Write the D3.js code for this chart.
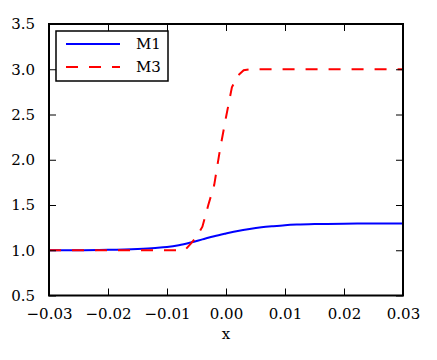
<!DOCTYPE html>
<html>
<head>
<meta charset="utf-8">
<script src="https://cdn.jsdelivr.net/npm/d3@7"></script>
<style>
  body { margin: 0; background: #fff; }
  svg text { font-family: "DejaVu Serif", serif; font-size: 15px; fill: #000; }
</style>
</head>
<body>
<svg id="chart" width="437" height="360"></svg>
<script>
// data
var m1_x = [-0.03, -0.025, -0.02, -0.015, -0.012, -0.01, -0.008, -0.006, -0.004, -0.002, 0, 0.002, 0.004, 0.006, 0.008, 0.01, 0.012, 0.015, 0.02, 0.025, 0.03];
var m1_y = [1.0, 1.0, 1.005, 1.015, 1.025, 1.035, 1.055, 1.085, 1.12, 1.155, 1.185, 1.213, 1.235, 1.253, 1.266, 1.277, 1.284, 1.29, 1.294, 1.295, 1.295];

var m3_x = [-0.03, -0.02, -0.01, -0.008, -0.007, -0.006, -0.005, -0.004, -0.003, -0.002, -0.001, 0, 0.001, 0.002, 0.003, 0.004, 0.01, 0.02, 0.03];
var m3_y = [1.0, 1.0, 1.0, 1.0, 1.0, 1.07, 1.15, 1.26, 1.5, 1.72, 2.12, 2.47, 2.8, 2.93, 2.99, 3.0, 3.0, 3.0, 3.0];

var x_ticks = [-0.03, -0.02, -0.01, 0, 0.01, 0.02, 0.03];
var y_ticks = [0.5, 1.0, 1.5, 2.0, 2.5, 3.0, 3.5];
var series_names = ["M1", "M3"];

// plot box (window.top is reserved, so use other names)
var box_l = 49, box_r = 403, box_t = 24, box_b = 295.5;
var svg = d3.select("#chart");

var x = d3.scaleLinear().domain([-0.03, 0.03]).range([box_l, box_r]);
var y = d3.scaleLinear().domain([0.5, 3.5]).range([box_b, box_t]);

function fmtX(d){
    return d3.format(".2f")(d).replace("-", "\u2212");
}

svg.append("defs").append("clipPath").attr("id", "clip")
    .append("rect").attr("x", box_l).attr("y", box_t).attr("width", box_r-box_l).attr("height", box_b-box_t);

// lines
var m1_line = d3.line().x(d => x(d[0])).y(d => y(d[1])).curve(d3.curveMonotoneX);
var m3_line = d3.line().x(d => x(d[0])).y(d => y(d[1]));

svg.append("path")
    .datum(m1_x.map((v,i) => [v, m1_y[i]]))
    .attr("d", m1_line)
    .attr("clip-path", "url(#clip)")
    .attr("fill", "none").attr("stroke", "#0000ff").attr("stroke-width", 2);

svg.append("path")
    .datum(m3_x.map((v,i) => [v, m3_y[i]]))
    .attr("d", m3_line)
    .attr("clip-path", "url(#clip)")
    .attr("fill", "none").attr("stroke", "#ff0000").attr("stroke-width", 2)
    .attr("stroke-dasharray", "12,11");

// axes, ticks inside on all four sides
var tl = 7;
svg.append("g").attr("transform", "translate(0,"+box_b+")")
    .call(d3.axisBottom(x).tickValues(x_ticks).tickFormat(fmtX).tickSizeInner(-tl).tickSizeOuter(0).tickPadding(13))
    .call(g => g.select(".domain").remove());
svg.append("g").attr("transform", "translate(0,"+box_t+")")
    .call(d3.axisTop(x).tickValues(x_ticks).tickFormat("").tickSizeInner(-tl).tickSizeOuter(0))
    .call(g => g.select(".domain").remove());
svg.append("g").attr("transform", "translate("+box_l+",0)")
    .call(d3.axisLeft(y).tickValues(y_ticks).tickFormat(d3.format(".1f")).tickSizeInner(-tl).tickSizeOuter(0).tickPadding(14))
    .call(g => g.select(".domain").remove());
svg.append("g").attr("transform", "translate("+box_r+",0)")
    .call(d3.axisRight(y).tickValues(y_ticks).tickFormat("").tickSizeInner(-tl).tickSizeOuter(0))
    .call(g => g.select(".domain").remove());

svg.selectAll(".tick line").attr("stroke", "#000").attr("stroke-width", 1);
svg.selectAll(".tick text").attr("font-family", "DejaVu Serif").attr("font-size", "15px");

svg.append("rect")
    .attr("x", box_l).attr("y", box_t).attr("width", box_r-box_l).attr("height", box_b-box_t)
    .attr("fill", "none").attr("stroke", "#000").attr("stroke-width", 2);

svg.append("text").attr("x", (box_l+box_r)/2).attr("y", 339).attr("text-anchor", "middle").text("x");

// legend
var lg = svg.append("g");
lg.append("rect").attr("x", 56).attr("y", 31).attr("width", 112).attr("height", 50)
    .attr("fill", "#fff").attr("stroke", "#000").attr("stroke-width", 1.5);
lg.append("line").attr("x1", 66).attr("x2", 120).attr("y1", 44).attr("y2", 44)
    .attr("stroke", "#0000ff").attr("stroke-width", 2);
lg.append("line").attr("x1", 66).attr("x2", 120).attr("y1", 67).attr("y2", 67)
    .attr("stroke", "#ff0000").attr("stroke-width", 2).attr("stroke-dasharray", "12,11");
lg.append("text").attr("x", 136).attr("y", 49).text(series_names[0]);
lg.append("text").attr("x", 136).attr("y", 72).text(series_names[1]);
</script>
</body>
</html>
